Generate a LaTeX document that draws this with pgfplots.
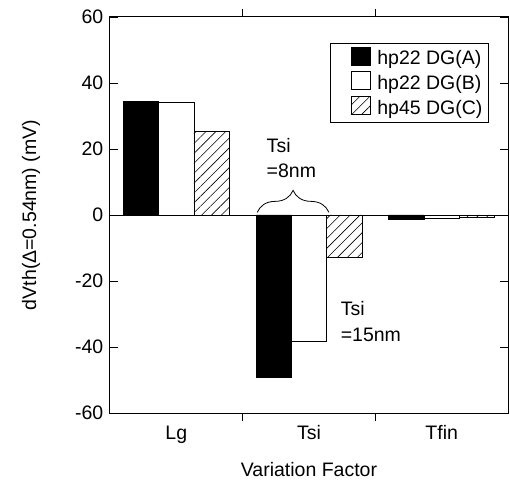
\documentclass[border=0pt]{standalone}
\usepackage{fontspec}
\setmainfont{Liberation Sans}
\usepackage{pgfplots}
\pgfplotsset{compat=1.18}
\usetikzlibrary{patterns.meta,decorations.pathreplacing}
\pgfplotsset{boxlegend/.style={legend image code/.code={\path[draw=none,fill=none] (-17bp,0bp) -- (24bp,0bp);\draw[##1] (0bp,-6bp) rectangle (19bp,12bp);}}}

\pgfplotstableread{
x A B C
0 34.4 34.0 25.3
1 -49.3 -38.4 -12.9
2 -1.3 -1.0 -0.8
}\datatable

\begin{document}
\fontsize{19.5bp}{22bp}\selectfont
\begin{tikzpicture}
\useasboundingbox (-110bp,-73bp) rectangle (400bp,413bp);
\begin{axis}[
  at={(0,0)}, anchor=south west,
  scale only axis, width=398bp, height=396bp,
  font=\fontsize{19.5bp}{22bp}\selectfont,
  /pgf/number format/assume math mode=true,
  xmin=-0.5, xmax=2.5, ymin=-60, ymax=60,
  ytick={-60,-40,-20,0,20,40,60},
  xtick={0.5,1.5}, xticklabels={},
  extra x ticks={0,1,2},
  extra x tick labels={Lg,Tsi,Tfin},
  extra x tick style={major tick length=0pt},
  tick style={black, line width=0.8bp},
  major tick length=8bp,
  axis line style={line width=1bp},
  ybar=0pt, bar width=0.266,
  ylabel={dVth(Δ=0.54nm) (mV)},
  ylabel style={at={(axis description cs:-0.1985,0.5)}, anchor=center},
  xlabel={Variation Factor},
  xlabel style={at={(rel axis cs:0.5,0)}, anchor=center, yshift=-57bp},
  xticklabel style={yshift=-6bp},
  legend style={at={(0.952,0.934)}, anchor=north east, draw=black, line width=0.8bp,
    inner xsep=4bp, inner ysep=3bp, row sep=2bp, font=\fontsize{19.5bp}{22bp}\selectfont},
  legend cell align=left,
]
\addplot[draw=black, fill=black, line width=0.6bp, boxlegend]
  table[x=x, y=A] {\datatable};
\addlegendentry{hp22 DG(A)}
\addplot[draw=black, fill=white, line width=0.6bp, boxlegend]
  table[x=x, y=B] {\datatable};
\addlegendentry{hp22 DG(B)}
\addplot[draw=black, line width=0.6bp, pattern={Lines[angle=45,distance=7bp,line width=0.6bp]}, pattern color=black, boxlegend]
  table[x=x, y=C] {\datatable};
\addlegendentry{hp45 DG(C)}
\draw[line width=0.8bp] (axis cs:-0.5,0) -- (axis cs:2.5,0);
\draw[line width=0.8bp, decorate, decoration={brace, amplitude=22bp}] (axis cs:0.61,0.8) -- (axis cs:1.15,0.8);
\node[anchor=base west, inner sep=0pt] at (axis cs:0.68,18.9) {Tsi};
\node[anchor=base west, inner sep=0pt] at (axis cs:0.68,11.3) {=8nm};
\node[anchor=base west, inner sep=0pt] at (axis cs:1.238,-30.6) {Tsi};
\node[anchor=base west, inner sep=0pt] at (axis cs:1.238,-38.2) {=15nm};
\end{axis}
\end{tikzpicture}
\end{document}
